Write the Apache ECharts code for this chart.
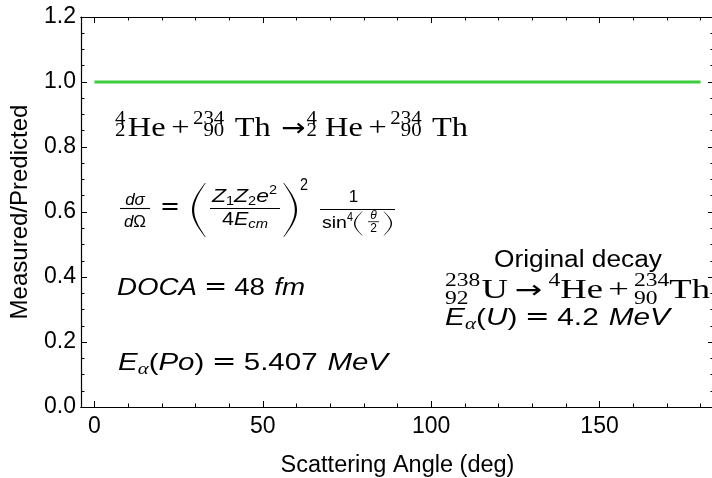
<!DOCTYPE html>
<html>
<head>
<meta charset="utf-8">
<script src="https://cdn.jsdelivr.net/npm/echarts@6/dist/echarts.min.js"></script>
<style>
html,body{margin:0;padding:0;background:#fff;}
#chart{width:712px;height:478px;}
</style>
</head>
<body>
<div id="chart"></div>
<script>
// ---------------- data ----------------
const angles = [0, 180];            // scattering angle (deg)
const ratio = [1.0, 1.0];           // measured / predicted
const xMajorTicks = [0, 50, 100, 150];
const xMinorTicks = [10, 20, 30, 40, 60, 70, 80, 90, 110, 120, 130, 140, 160, 170, 180];
const xRange = [-4, 184];
const yRange = [0, 1.2];
const yStep = 0.2;
const xTitle = 'Scattering Angle (deg)';
const yTitle = 'Measured/Predicted';

// ---------------- fonts ----------------
const SANS = "'Liberation Sans', Arial, Helvetica, sans-serif";
const SN = {family: SANS, italic: false};
const SI = {family: SANS, italic: true};
const SR = {family: "'Liberation Serif', 'Times New Roman', serif", italic: false};
const SRI = {family: "'Liberation Serif', 'Times New Roman', serif", italic: true};
const SYM = {family: "'DejaVu Sans', sans-serif", italic: false};

const ctx = document.createElement('canvas').getContext('2d');
function fontStr(f, s) { return (f.italic ? 'italic ' : '') + s + 'px ' + f.family; }
function measure(t, f, s) { ctx.font = fontStr(f, s); return ctx.measureText(t).width; }

const els = [];
const K = 0.33;
function addText(t, x, base, s, f, sc) {
  els.push({
    type: 'text', x: x, y: base - K * s, scaleX: sc || 1, silent: true, z: 100,
    style: {
      text: t, fontSize: s, fontFamily: f.family, fontStyle: f.italic ? 'italic' : 'normal',
      fill: '#000', align: 'left', verticalAlign: 'middle', textAlign: 'left', textVerticalAlign: 'middle'
    }
  });
}
function bar(x0, x1, y, w) {
  els.push({type: 'line', silent: true, z: 100, shape: {x1: x0, y1: y, x2: x1, y2: y},
    style: {stroke: '#000', lineWidth: w || 1.1}});
}
function paren(side, xEnd, xBulge, yTop, yBot, wEnd, wMid) {
  const n = 30, outer = [], inner = [];
  for (let i = 0; i <= n; i++) {
    const t = i / n, y = yTop + (yBot - yTop) * t, s = Math.sin(Math.PI * t);
    const w = wEnd + (wMid - wEnd) * s;
    if (side === 'l') {
      const xo = xEnd - (xEnd - xBulge) * s;
      outer.push([xo, y]); inner.push([xo + w, y]);
    } else {
      const xo = xEnd + (xBulge - xEnd) * s;
      outer.push([xo, y]); inner.push([xo - w, y]);
    }
  }
  els.push({type: 'polygon', silent: true, z: 100, shape: {points: outer.concat(inner.reverse())},
    style: {fill: '#000'}});
}
function layout(items, o) {
  const parts = [];
  let X = 0;
  for (const it of items) {
    if (it.gap != null) { X += it.gap; continue; }
    if (it.ss) {
      const f = it.f || SR, s = it.s || o.ss;
      const w1 = measure(it.ss[0], f, s), w2 = measure(it.ss[1], f, s);
      parts.push({t: it.ss[0], f, s, x: X, dy: o.up});
      parts.push({t: it.ss[1], f, s, x: X + (it.ra ? (w1 - w2) : 0), dy: o.dn});
      X += Math.max(w1, w2);
      continue;
    }
    const f = it.f || o.f, s = it.s || o.s;
    parts.push({t: it.t, f, s, x: X, dy: it.dy || 0});
    X += measure(it.t, f, s);
  }
  const sc = (o.x1 != null) ? (o.x1 - o.x0) / X : (o.sc || 1);
  const x0 = (o.x0 != null) ? o.x0 : o.cx - X * sc / 2;
  for (const p of parts) addText(p.t, x0 + p.x * sc, o.base + p.dy, p.s, p.f, sc);
}

// Line 1: 4/2 He + 234/90 Th -> 4/2 He + 234/90 Th
layout([
  {ss: ['4', '2']}, {gap: 2}, {t: 'He'}, {gap: 5}, {t: '+'}, {gap: 3}, {ss: ['234', '90'], ra: true}, {gap: 9}, {t: 'Th'},
  {gap: 9}, {t: '\u2192', f: SYM, s: 25}, {gap: 1}, {ss: ['4', '2']}, {gap: 7}, {t: 'He'}, {gap: 5}, {t: '+'}, {gap: 3},
  {ss: ['234', '90'], ra: true}, {gap: 9}, {t: 'Th'}
], {x0: 115, x1: 468, base: 138, s: 28, ss: 18, f: SR, up: -13, dn: -1});

// Line 2: d sigma / d Omega = (Z1 Z2 e^2 / 4 E_cm)^2 1/sin^4(theta/2)
layout([{t: 'd', f: SI}, {t: '\u03c3', f: SI}], {cx: 135, base: 206, s: 17, f: SI});
bar(120, 150, 208.5);
layout([{t: 'd', f: SI}, {t: '\u03a9', f: SN}], {cx: 135, base: 228, s: 17, f: SI});
layout([{t: '=', f: SYM}], {x0: 160, x1: 180, base: 216, s: 24, f: SYM});
paren('l', 205, 192, 183, 237, 0.7, 2.2);
layout([{t: 'Z', f: SI}, {t: '1', f: SN, s: 12, dy: 3}, {t: 'Z', f: SI}, {t: '2', f: SN, s: 12, dy: 3},
  {t: 'e', f: SI}, {t: '2', f: SN, s: 12, dy: -8}], {x0: 212, x1: 277, base: 203, s: 19, f: SI});
bar(210, 280, 208.5);
layout([{t: '4', f: SN}, {t: 'E', f: SI}, {t: 'cm', f: SI, s: 13, dy: 3}], {x0: 222, x1: 268, base: 226, s: 19, f: SI});
paren('r', 284, 297, 183, 237, 0.7, 2.2);
layout([{t: '2', f: SN}], {x0: 300, x1: 308, base: 191, s: 17, f: SN});
layout([{t: '1', f: SN}], {cx: 353.5, base: 203, s: 17, f: SN});
bar(320, 395, 209.5);
layout([{t: 'sin', f: SN}], {x0: 322, x1: 347, base: 229, s: 17, f: SN});
layout([{t: '4', f: SN}], {x0: 347, x1: 353, base: 221.5, s: 12, f: SN});
paren('l', 362, 354, 211.5, 235.5, 0.5, 1.4);
layout([{t: '\u03b8', f: SI}], {cx: 373.5, base: 220, s: 12, f: SI});
bar(368, 379, 221.7, 0.8);
layout([{t: '2', f: SN}], {cx: 373.5, base: 233, s: 12, f: SN});
paren('r', 384, 392, 211.5, 235.5, 0.5, 1.4);

// Line 3: DOCA = 48 fm
layout([{t: 'DOCA', f: SI}, {gap: 6}, {t: '=', f: SYM}, {gap: 6}, {t: '48', f: SN}, {gap: 8}, {t: 'fm', f: SI}],
  {x0: 117, x1: 305, base: 296, s: 24, f: SI});

// Line 4: E_alpha(Po) = 5.407 MeV
layout([{t: 'E', f: SI}, {t: '\u03b1', f: SRI, s: 17, dy: 4}, {t: '(', f: SN}, {t: 'Po', f: SI}, {t: ')', f: SN},
  {gap: 6}, {t: '=', f: SYM}, {gap: 6}, {t: '5.407', f: SN}, {gap: 8}, {t: 'MeV', f: SI}],
  {x0: 118, x1: 388, base: 371, s: 24, f: SI});

// Right block
layout([{t: 'Original decay', f: SN}], {x0: 494, x1: 662, base: 268, s: 23, f: SN});
layout([
  {ss: ['238', '92']}, {gap: 1}, {t: 'U'}, {gap: 5}, {t: '\u2192', f: SYM, s: 25}, {gap: 5}, {t: '4', s: 18, dy: -13},
  {t: 'He'}, {gap: 4}, {t: '+'}, {gap: 4}, {ss: ['234', '90']}, {t: 'Th'}
], {x0: 445, x1: 710, base: 300, s: 28, ss: 18, f: SR, up: -13, dn: 5});
layout([{t: 'E', f: SI}, {t: '\u03b1', f: SRI, s: 17, dy: 4}, {t: '(', f: SN}, {t: 'U', f: SI}, {t: ')', f: SN},
  {gap: 6}, {t: '=', f: SYM}, {gap: 6}, {t: '4.2', f: SN}, {gap: 8}, {t: 'MeV', f: SI}],
  {x0: 445, x1: 670, base: 326, s: 24, f: SI});

// ---------------- axes ----------------
const axLine = {show: true, onZero: false, lineStyle: {color: '#000', width: 1.2}};
function xAx(pos, ticks, len, withLabels) {
  const a = {
    type: 'value', position: pos, offset: 0, min: xRange[0], max: xRange[1],
    axisLine: axLine,
    axisTick: {show: true, inside: true, length: len, customValues: ticks, lineStyle: {color: '#000', width: 1}},
    axisLabel: {show: false},
    splitLine: {show: false}
  };
  if (withLabels) {
    a.axisLabel = {show: true, customValues: ticks, margin: 8, fontSize: 23, color: '#000', fontFamily: SANS};
    a.name = xTitle; a.nameLocation = 'middle'; a.nameGap = 47;
    a.nameTextStyle = {fontSize: 23.5, color: '#000', fontFamily: SANS};
  }
  return a;
}
function yAx(pos, withLabels) {
  const a = {
    type: 'value', position: pos, offset: 0, min: yRange[0], max: yRange[1], interval: yStep,
    axisLine: axLine,
    axisTick: {show: true, inside: true, length: 6, lineStyle: {color: '#000', width: 1}},
    minorTick: {show: true, splitNumber: 4, length: 3.5, lineStyle: {color: '#000', width: 1}},
    axisLabel: {show: false},
    splitLine: {show: false}, minorSplitLine: {show: false}
  };
  if (withLabels) {
    a.axisLabel = {show: true, margin: 5, fontSize: 23, color: '#000', fontFamily: SANS,
      formatter: v => v.toFixed(1)};
    a.name = yTitle; a.nameLocation = 'middle'; a.nameGap = 49;
    a.nameTextStyle = {fontSize: 24, color: '#000', fontFamily: SANS};
  }
  return a;
}

const chart = echarts.init(document.getElementById('chart'), null, {renderer: 'canvas'});
chart.setOption({
  animation: false,
  backgroundColor: '#fff',
  grid: {left: 81, right: -2, top: 17, bottom: 71, containLabel: false, outerBoundsMode: 'none'},
  xAxis: [xAx('bottom', xMajorTicks, 6, true), xAx('bottom', xMinorTicks, 3.5, false),
          xAx('top', xMajorTicks, 6, false), xAx('top', xMinorTicks, 3.5, false)],
  yAxis: [yAx('left', true), yAx('right', false)],
  series: [{
    type: 'line', xAxisIndex: 0, yAxisIndex: 0, showSymbol: false, symbol: 'none',
    data: angles.map((a, i) => [a, ratio[i]]),
    lineStyle: {color: '#3ccc3c', width: 3}, itemStyle: {color: '#3ccc3c'}
  }],
  graphic: {elements: els}
});
</script>
</body>
</html>
